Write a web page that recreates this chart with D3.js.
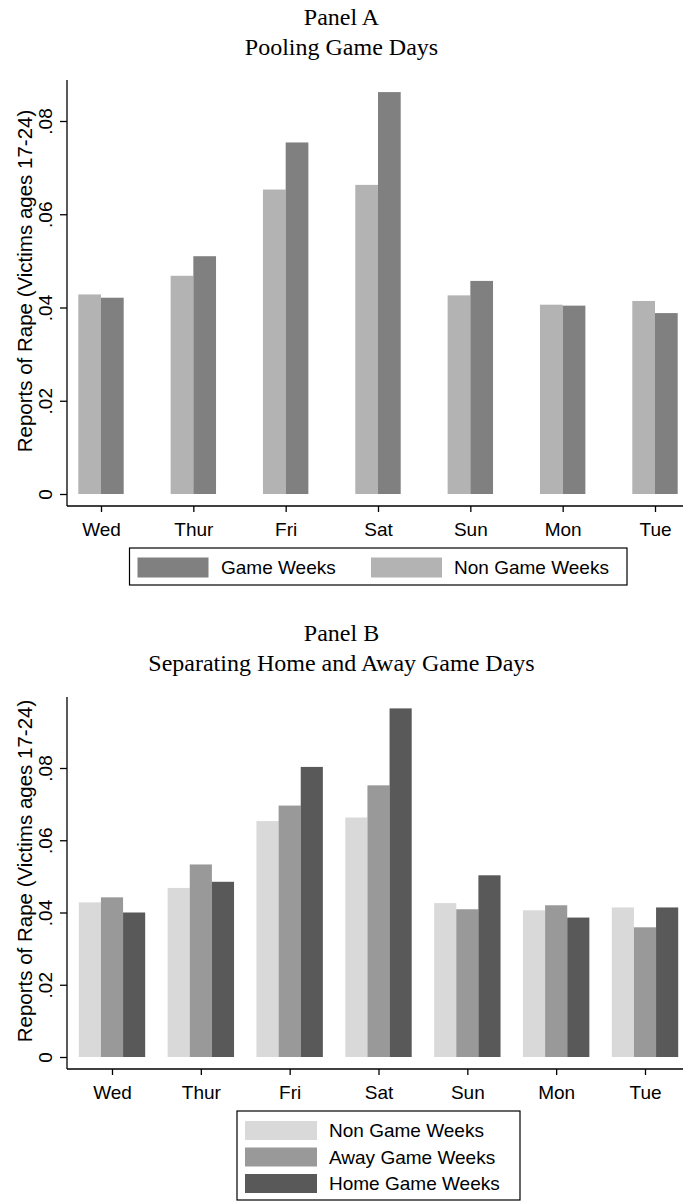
<!DOCTYPE html>
<html>
<head>
<meta charset="utf-8">
<script src="https://cdn.jsdelivr.net/npm/d3@7"></script>
<style>
  html, body { margin: 0; padding: 0; background: #fff; }
  svg { display: block; }
</style>
</head>
<body>
<svg id="chart" width="683" height="1201"></svg>
<script>
// Day-of-week categories (week runs Wed -> Tue)
const days = ["Wed", "Thur", "Fri", "Sat", "Sun", "Mon", "Tue"];

// Reports of rape, victims ages 17-24
const nonGameWeeks  = [0.0428, 0.0468, 0.0653, 0.0663, 0.0426, 0.0406, 0.0414];
const gameWeeks     = [0.0421, 0.0510, 0.0754, 0.0862, 0.0457, 0.0404, 0.0388];
const awayGameWeeks = [0.0442, 0.0533, 0.0696, 0.0752, 0.0409, 0.0420, 0.0359];
const homeGameWeeks = [0.0400, 0.0485, 0.0803, 0.0965, 0.0503, 0.0386, 0.0414];

const yTickValues = [0, 0.02, 0.04, 0.06, 0.08];
const yTickLabels = ["0", ".02", ".04", ".06", ".08"];
const yTitle = "Reports of Rape (Victims ages 17-24)";

const SANS = "'Liberation Sans', Arial, sans-serif";
const SERIF = "'Liberation Serif', 'Times New Roman', serif";

const svg = d3.select("#chart");

function drawPanel(cfg) {
  const g = svg.append("g");

  // titles
  cfg.titles.forEach(t => {
    g.append("text")
      .attr("x", 341.5).attr("y", t.y)
      .attr("text-anchor", "middle")
      .attr("dominant-baseline", "central")
      .style("font-family", SERIF)
      .style("font-size", "24px")
      .attr("fill", "#000")
      .text(t.text);
  });

  const y = d3.scaleLinear().domain([0, 0.08]).range(cfg.yRange);
  const x = d3.scalePoint().domain(days).range(cfg.xRange);
  const sub = d3.scaleBand()
    .domain(cfg.series.map(s => s.key))
    .range([-cfg.groupHalf, cfg.groupHalf])
    .paddingInner(0);

  // bars
  cfg.series.forEach(s => {
    g.append("g").selectAll("rect")
      .data(s.values.map((v, i) => ({ day: days[i], v })))
      .join("rect")
      .attr("x", d => x(d.day) + sub(s.key))
      .attr("width", sub.bandwidth())
      .attr("y", d => y(d.v))
      .attr("height", d => y(0) - y(d.v))
      .attr("fill", s.color);
  });

  // y axis
  const yAxis = d3.axisLeft(y)
    .tickValues(yTickValues)
    .tickFormat((d, i) => yTickLabels[i])
    .tickSize(7)
    .tickPadding(4);
  const ya = g.append("g")
    .attr("transform", `translate(${cfg.axisX},0)`)
    .call(yAxis);
  ya.select(".domain").remove();
  ya.selectAll(".tick line").attr("stroke", "#000").attr("stroke-width", 1.3);
  ya.selectAll(".tick text")
    .attr("x", null).attr("dy", null)
    .attr("transform", "translate(-22,0) rotate(-90)")
    .attr("text-anchor", "middle")
    .attr("dominant-baseline", "central")
    .style("font-family", SANS)
    .style("font-size", "19px")
    .attr("fill", "#000");
  g.append("line")
    .attr("x1", cfg.axisX).attr("x2", cfg.axisX)
    .attr("y1", cfg.axisTop).attr("y2", cfg.axisBottom)
    .attr("stroke", "#000").attr("stroke-width", 1.3);

  // y axis title
  g.append("text")
    .attr("transform", `translate(24,${(cfg.axisTop + cfg.axisBottom) / 2 - 12}) rotate(-90)`)
    .attr("text-anchor", "middle")
    .attr("dominant-baseline", "central")
    .style("font-family", SANS)
    .style("font-size", "20.5px")
    .attr("fill", "#000")
    .text(yTitle);

  // x axis
  const xAxis = d3.axisBottom(x).tickSize(6).tickPadding(5);
  const xa = g.append("g")
    .attr("transform", `translate(0,${cfg.axisBottom})`)
    .call(xAxis);
  xa.select(".domain").remove();
  xa.selectAll(".tick line").attr("stroke", "#000").attr("stroke-width", 1.3);
  xa.selectAll(".tick text")
    .attr("y", 23).attr("dy", null)
    .attr("dominant-baseline", "central")
    .style("font-family", SANS)
    .style("font-size", "19px")
    .attr("fill", "#000");
  g.append("line")
    .attr("x1", cfg.axisX).attr("x2", 683)
    .attr("y1", cfg.axisBottom).attr("y2", cfg.axisBottom)
    .attr("stroke", "#000").attr("stroke-width", 1.3);

  // legend
  const L = cfg.legend;
  g.append("rect")
    .attr("x", L.box[0]).attr("y", L.box[1])
    .attr("width", L.box[2]).attr("height", L.box[3])
    .attr("fill", "#fff").attr("stroke", "#000").attr("stroke-width", 1.2);
  L.items.forEach(it => {
    const s = cfg.series.find(d => d.key === it.key);
    g.append("rect")
      .attr("x", it.kx).attr("y", it.cy - L.keyH / 2)
      .attr("width", L.keyW).attr("height", L.keyH)
      .attr("fill", s.color);
    g.append("text")
      .attr("x", it.tx).attr("y", it.cy)
      .attr("dominant-baseline", "central")
      .style("font-family", SANS)
      .style("font-size", "19px")
      .attr("fill", "#000")
      .text(s.label);
  });
}

// Panel A: game weeks pooled
drawPanel({
  titles: [{ text: "Panel A", y: 17 }, { text: "Pooling Game Days", y: 47 }],
  yRange: [494, 121],
  xRange: [101, 655],
  groupHalf: 22.7,
  axisX: 67, axisTop: 80, axisBottom: 506,
  series: [
    { key: "non", label: "Non Game Weeks", values: nonGameWeeks, color: "#b3b3b3" },
    { key: "game", label: "Game Weeks", values: gameWeeks, color: "#808080" }
  ],
  legend: {
    box: [129.5, 548, 497.5, 37],
    keyW: 71, keyH: 20,
    items: [
      { key: "game", kx: 137.5, tx: 221, cy: 567.5 },
      { key: "non", kx: 371, tx: 454, cy: 567.5 }
    ]
  }
});

// Panel B: home and away game weeks separated
drawPanel({
  titles: [{ text: "Panel B", y: 633 }, { text: "Separating Home and Away Game Days", y: 663 }],
  yRange: [1057, 768],
  xRange: [112, 645],
  groupHalf: 33.2,
  axisX: 67, axisTop: 697, axisBottom: 1069,
  series: [
    { key: "non", label: "Non Game Weeks", values: nonGameWeeks, color: "#d9d9d9" },
    { key: "away", label: "Away Game Weeks", values: awayGameWeeks, color: "#999999" },
    { key: "home", label: "Home Game Weeks", values: homeGameWeeks, color: "#595959" }
  ],
  legend: {
    box: [237, 1111, 283, 89],
    keyW: 72, keyH: 19,
    items: [
      { key: "non", kx: 245, tx: 329, cy: 1130.5 },
      { key: "away", kx: 245, tx: 329, cy: 1157 },
      { key: "home", kx: 245, tx: 329, cy: 1183.5 }
    ]
  }
});
</script>
</body>
</html>
